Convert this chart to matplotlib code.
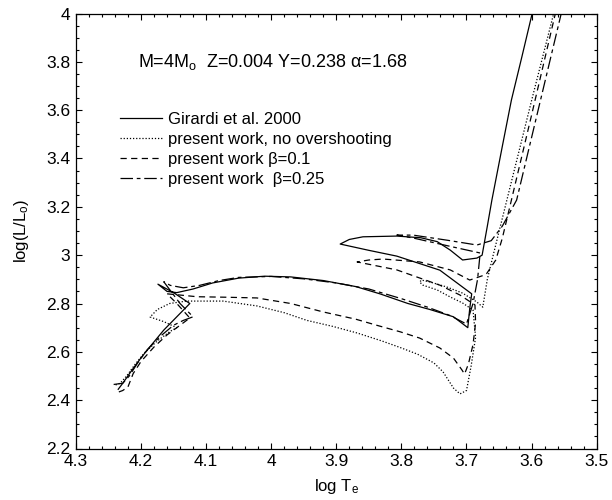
import matplotlib
matplotlib.use("Agg")
import matplotlib.pyplot as plt
from matplotlib.ticker import MultipleLocator, FuncFormatter

plt.rcParams['font.family'] = ['Liberation Sans', 'DejaVu Sans']
plt.rcParams['mathtext.fontset'] = 'custom'
plt.rcParams['mathtext.rm'] = 'Liberation Sans'
plt.rcParams['mathtext.it'] = 'Liberation Sans:italic'

# Girardi et al. 2000 (solid)
gir_logt = [4.235, 4.228, 4.215, 4.200, 4.185, 4.165, 4.145, 4.125,
            4.150, 4.174, 4.160, 4.145, 4.120, 4.090,
            4.050, 4.010, 3.970, 3.920, 3.870, 3.833, 3.790, 3.756, 3.720, 3.698,
            3.695, 3.692, 3.700, 3.741, 3.807, 3.850, 3.894,
            3.880, 3.859, 3.807, 3.770, 3.745, 3.725, 3.706, 3.684, 3.676,
            3.668, 3.661, 3.645, 3.631, 3.615, 3.600, 3.597]
gir_logl = [2.445, 2.470, 2.520, 2.575, 2.625, 2.690, 2.745, 2.800,
            2.845, 2.880, 2.850, 2.845, 2.860, 2.885,
            2.905, 2.913, 2.910, 2.895, 2.870, 2.840, 2.800, 2.775, 2.745, 2.700,
            2.780, 2.840, 2.856, 2.938, 2.996, 3.020, 3.046,
            3.065, 3.076, 3.079, 3.072, 3.056, 3.021, 2.980, 2.988, 3.000,
            3.120, 3.228, 3.450, 3.642, 3.820, 3.990, 4.030]

# present work, no overshooting (dotted)
now_logt = [4.239, 4.232, 4.222, 4.210, 4.195, 4.175, 4.155, 4.145,
            4.165, 4.186, 4.175, 4.156, 4.130, 4.105, 4.074, 4.022, 3.980, 3.945,
            3.905, 3.868, 3.830, 3.800, 3.775, 3.750, 3.736, 3.720, 3.710,
            3.700, 3.693, 3.686, 3.690,
            3.706, 3.725, 3.745, 3.767, 3.772, 3.769, 3.756, 3.730, 3.706, 3.684, 3.675,
            3.668, 3.659, 3.638, 3.600, 3.567, 3.563]
now_logl = [2.463, 2.470, 2.500, 2.545, 2.595, 2.645, 2.685, 2.700,
            2.725, 2.744, 2.775, 2.800, 2.810, 2.810, 2.810, 2.790, 2.762, 2.730,
            2.705, 2.678, 2.645, 2.616, 2.590, 2.554, 2.517, 2.450, 2.426,
            2.440, 2.540, 2.660, 2.773,
            2.802, 2.827, 2.856, 2.876, 2.889, 2.897, 2.889, 2.868, 2.843, 2.806, 2.785,
            2.900, 3.000, 3.228, 3.640, 3.990, 4.030]

# present work beta=0.1 (dashed)
b01_logt = [4.234, 4.228, 4.220, 4.212, 4.200, 4.180, 4.160, 4.140, 4.125,
            4.145, 4.160, 4.140, 4.114, 4.070, 4.022, 3.970, 3.920, 3.870, 3.838,
            3.802, 3.772, 3.741, 3.720, 3.707, 3.703,
            3.697, 3.690, 3.686, 3.687,
            3.710, 3.741, 3.807, 3.868,
            3.850, 3.828, 3.772, 3.725, 3.695, 3.670,
            3.655, 3.645, 3.631, 3.600, 3.564, 3.560]
b01_logl = [2.434, 2.440, 2.455, 2.510, 2.560, 2.620, 2.670, 2.710, 2.740,
            2.800, 2.840, 2.835, 2.828, 2.826, 2.823, 2.800, 2.765, 2.735, 2.710,
            2.683, 2.657, 2.616, 2.574, 2.525, 2.508,
            2.550, 2.630, 2.720, 2.794,
            2.835, 2.876, 2.939, 2.972,
            2.980, 2.984, 2.972, 2.939, 2.897, 2.920,
            2.980, 3.070, 3.228, 3.580, 3.994, 4.040]

# present work beta=0.25 (dash-dot)
b25_logt = [4.242, 4.228, 4.218, 4.205, 4.190, 4.170, 4.150, 4.135, 4.120,
            4.140, 4.165, 4.155, 4.135, 4.110, 4.080,
            4.050, 4.000, 3.950, 3.900, 3.850, 3.800, 3.760, 3.725, 3.700,
            3.690, 3.683, 3.679,
            3.721, 3.782, 3.807, 3.782, 3.730, 3.684,
            3.662, 3.645, 3.623, 3.590, 3.555, 3.551]
b25_logl = [2.465, 2.470, 2.500, 2.555, 2.610, 2.665, 2.710, 2.730, 2.745,
            2.800, 2.890, 2.875, 2.865, 2.875, 2.895,
            2.908, 2.912, 2.902, 2.885, 2.860, 2.820, 2.785, 2.750, 2.715,
            2.800, 2.900, 3.009,
            3.034, 3.071, 3.083, 3.083, 3.062, 3.042,
            3.060, 3.120, 3.228, 3.600, 3.994, 4.040]

labels = ['Girardi et al. 2000', 'present work, no overshooting',
          'present work \u03b2=0.1', 'present work  \u03b2=0.25']

fig = plt.figure(figsize=(6.12, 5.0), dpi=100)
ax = fig.add_axes([0.124, 0.103, 0.851, 0.870])

ax.plot(gir_logt, gir_logl, color='black', lw=0.9, ls='-', label=labels[0])
ax.plot(now_logt, now_logl, color='black', lw=0.9, ls=(0, (1, 1.5)), label=labels[1])
ax.plot(b01_logt, b01_logl, color='black', lw=0.9, ls=(0, (5, 3.5)), label=labels[2])
ax.plot(b25_logt, b25_logl, color='black', lw=0.9, ls=(0, (10, 3, 3, 3)), label=labels[3])

ax.set_xlim(4.3, 3.5)
ax.set_ylim(2.2, 4.0)
ax.xaxis.set_major_locator(MultipleLocator(0.1))
ax.xaxis.set_minor_locator(MultipleLocator(0.02))
ax.yaxis.set_major_locator(MultipleLocator(0.2))
ax.yaxis.set_minor_locator(MultipleLocator(0.05))
fmt = FuncFormatter(lambda v, p: '%g' % round(v, 2))
ax.xaxis.set_major_formatter(fmt)
ax.yaxis.set_major_formatter(fmt)
ax.tick_params(which='both', direction='in', top=True, right=True, labelsize=12.5, width=0.8)
ax.tick_params(which='major', length=4.5, pad=4)
ax.tick_params(which='minor', length=2.5)
for s in ax.spines.values():
    s.set_linewidth(0.9)

ax.set_xlabel('log T$_\\mathrm{e}$', fontsize=12, labelpad=6)
ax.set_ylabel('log(L/L$_\\mathrm{o}$)', fontsize=12, labelpad=11)

ax.text(4.205, 3.80, 'M=4M$_\\mathrm{o}$  Z=0.004 Y=0.238 \u03b1=1.68', fontsize=13,
        va='center', ha='left')

ax.legend(loc='upper left', bbox_to_anchor=(0.072, 0.79), frameon=False, fontsize=12,
          handlelength=2.5, handletextpad=0.4, labelspacing=0.3, borderaxespad=0)

fig.savefig('out.png', dpi=100)
